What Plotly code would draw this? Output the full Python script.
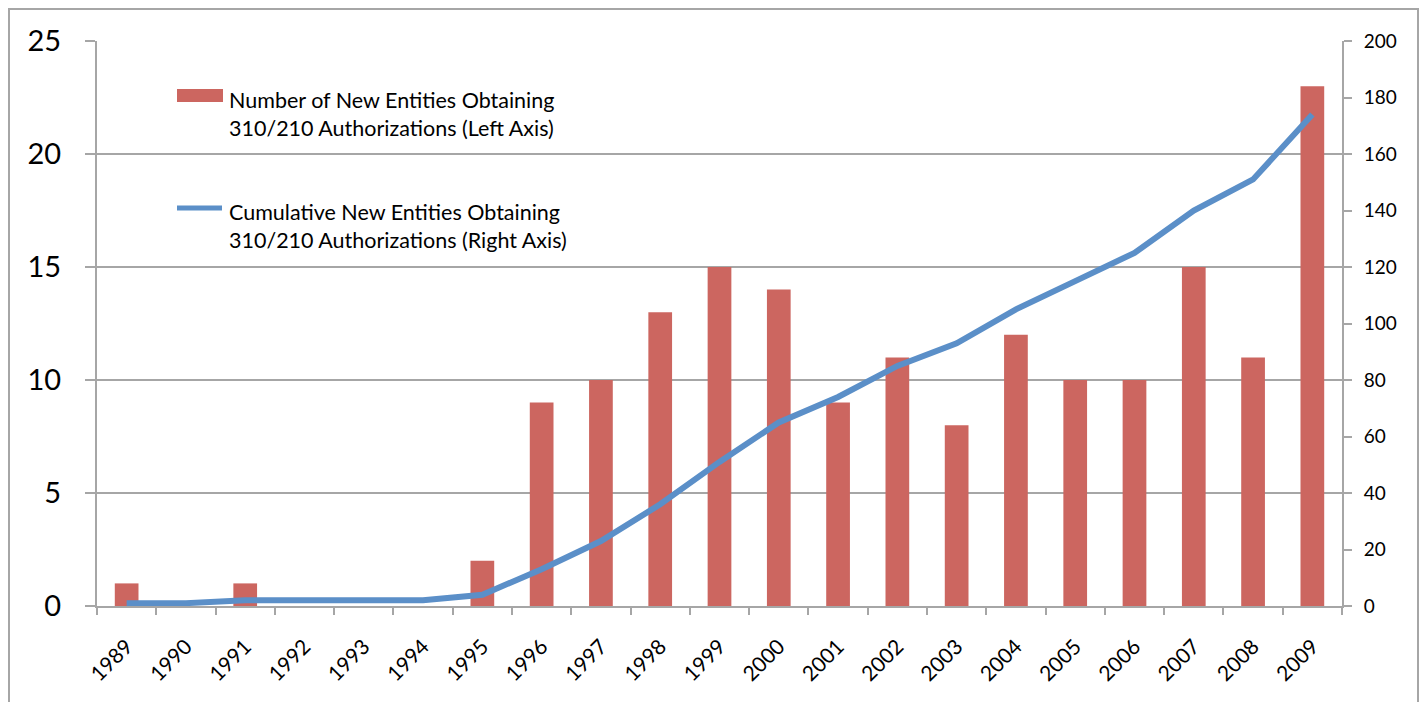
import plotly.graph_objects as go

years = ["1989", "1990", "1991", "1992", "1993", "1994", "1995", "1996", "1997", "1998",
         "1999", "2000", "2001", "2002", "2003", "2004", "2005", "2006", "2007", "2008", "2009"]
new_entities = [1, 0, 1, 0, 0, 0, 2, 9, 10, 13, 15, 14, 9, 11, 8, 12, 10, 10, 15, 11, 23]
cumulative = [1, 1, 2, 2, 2, 2, 4, 13, 23, 36, 51, 65, 74, 85, 93, 105, 115, 125, 140, 151, 174]

BAR_COLOR = "#CC6660"
LINE_COLOR = "#5B8FC8"
GRID = "#A6A6A6"
FONT = "Lato"

OFF = 8  # page body margin
W, H = 1427 - 2 * OFF, 703 - OFF - 1
# desired plot area in screen pixels
L, R, T, B = 97, 1342, 41, 606


def px(x):
    return (x - L) / (R - L)


def py(y):
    return (B - y) / (B - T)


fig = go.Figure()
fig.add_trace(go.Bar(x=years, y=new_entities,
                     name="Number of New Entities Obtaining 310/210 Authorizations (Left Axis)",
                     marker_color=BAR_COLOR, marker_line_width=0, yaxis="y", showlegend=False))
fig.add_trace(go.Scatter(x=years, y=cumulative,
                         name="Cumulative New Entities Obtaining 310/210 Authorizations (Right Axis)",
                         mode="lines", line=dict(color=LINE_COLOR, width=6), yaxis="y2",
                         showlegend=False))

shapes = [
    # outer chart border
    dict(type="rect", xref="paper", yref="paper", x0=px(OFF + 1), x1=px(OFF + W - 1),
         y0=py(OFF + H + 2), y1=py(OFF + 1),
         line=dict(color=GRID, width=2), fillcolor="rgba(0,0,0,0)", layer="above"),
    # legend background
    dict(type="rect", xref="paper", yref="paper", x0=px(157), x1=px(590), y0=py(282), y1=py(58),
         line=dict(width=0), fillcolor="white", layer="between"),
    # legend swatches
    dict(type="rect", xref="paper", yref="paper", x0=px(177), x1=px(223), y0=py(102), y1=py(89),
         line=dict(width=0), fillcolor=BAR_COLOR, layer="above"),
    dict(type="line", xref="paper", yref="paper", x0=px(177), x1=px(222), y0=py(208), y1=py(208),
         line=dict(width=5, color=LINE_COLOR), layer="above"),
]

leg_font = dict(family=FONT, size=21.5, color="black")
annotations = []
for text, y in [("Number of New Entities Obtaining", 100), ("310/210 Authorizations (Left Axis)", 128),
                ("Cumulative New Entities Obtaining", 212), ("310/210 Authorizations (Right Axis)", 240)]:
    annotations.append(dict(xref="paper", yref="paper", x=px(227), y=py(y), text=text, showarrow=False,
                            xanchor="left", yanchor="middle", font=leg_font))

fig.update_layout(
    width=W, height=H,
    margin=dict(l=L - OFF, r=OFF + W - R, t=T - OFF, b=OFF + H - B),
    paper_bgcolor="white", plot_bgcolor="white",
    bargap=0.6,
    font=dict(family=FONT, color="black"),
    xaxis=dict(type="category", tickangle=-45, tickfont=dict(size=21), ticks="outside",
               tickson="boundaries", ticklen=7, tickcolor=GRID, tickwidth=2,
               showline=True, linecolor=GRID, linewidth=2, showgrid=False,
               ticklabelstandoff=18),
    yaxis=dict(range=[0, 25], dtick=5, tickfont=dict(size=29), ticks="outside", ticklen=10,
               tickcolor=GRID, tickwidth=2, showline=True, linecolor=GRID, linewidth=2,
               showgrid=True, gridcolor=GRID, gridwidth=2, zeroline=False, ticklabelstandoff=18),
    yaxis2=dict(range=[0, 200], dtick=20, overlaying="y", side="right", tickfont=dict(size=19),
                ticks="outside", ticklen=8, tickcolor=GRID, tickwidth=2, showline=True,
                linecolor=GRID, linewidth=2, showgrid=False, zeroline=False, ticklabelstandoff=8),
    shapes=shapes,
    annotations=annotations,
)

fig.write_html("out.html")
